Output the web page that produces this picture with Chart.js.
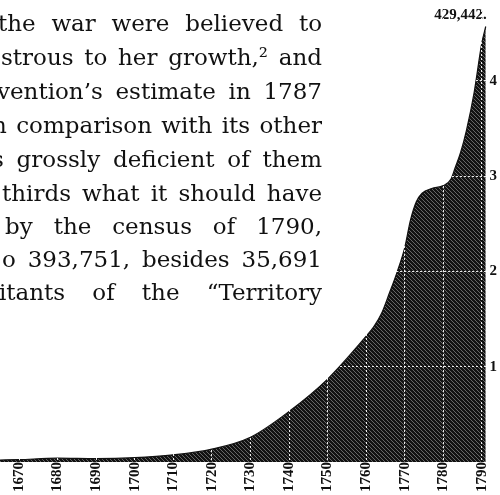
<!DOCTYPE html>
<html>
<head>
<meta charset="utf-8">
<script src="https://cdn.jsdelivr.net/npm/chart.js@4.4.1/dist/chart.umd.min.js"></script>
<style>
  html, body { margin: 0; padding: 0; background: #fff; }
  #page { position: relative; width: 500px; height: 495px; overflow: hidden; background: #fff; }
  #chart { position: absolute; left: 0; top: -3px; }
  .line {
    position: absolute;
    font-family: 'DejaVu Serif', serif;
    font-size: 23px;
    line-height: 24px;
    color: #111;
    text-align: justify;
    text-align-last: justify;
    white-space: nowrap;
  }
</style>
</head>
<body>
<div id="page">
  <canvas id="chart" width="500" height="495"></canvas>
  <div id="text"></div>
</div>
<script>
// North Carolina population
const years = [1665, 1670, 1680, 1690, 1700, 1710, 1720, 1730, 1740, 1750, 1760, 1762, 1764, 1766, 1768, 1770, 1771.5, 1773, 1774.5, 1777, 1780, 1782, 1783, 1784.5, 1786, 1788, 1790, 1791];
const population = [2000, 2500, 4000, 3500, 4500, 7500, 13500, 26000, 53000, 87000, 132000, 142000, 156000, 177000, 199000, 225000, 254000, 273000, 282000, 287000, 290000, 297000, 308000, 325000, 348000, 388000, 440000, 457000];
const tickYears = [1670, 1680, 1690, 1700, 1710, 1720, 1730, 1740, 1750, 1760, 1770, 1780, 1790];
const hundredThousands = [100000, 200000, 300000, 400000];
const peakLabel = '429,442.';

// the page text running beside the diagram, with its left x and baseline
const textLines = [
  ['the war were believed to', -2, 31],
  ['strous to her growth,\u00b2 and', 1, 65],
  ['vention\u2019s estimate in 1787', -3, 99],
  ['n comparison with its other', -8, 133],
  ['s grossly deficient of them', -8, 167],
  ['thirds what it should have', 2, 201],
  ['by the census of 1790,', 5, 234],
  ['o 393,751, besides 35,691', 2, 267],
  ['itants of the \u201cTerritory', -1, 300]
];

const textBox = document.getElementById('text');
textLines.forEach(([str, left, base]) => {
  const d = document.createElement('div');
  d.className = 'line';
  d.textContent = str;
  d.style.left = left + 'px';
  d.style.width = (322 - left) + 'px';
  d.style.top = (base - 20) + 'px';
  textBox.appendChild(d);
  // squeeze a little if the line does not fit
  let ls = 0;
  while (d.scrollWidth > d.clientWidth && ls > -1.5) {
    ls -= 0.1;
    d.style.letterSpacing = ls + 'px';
  }
  d.style.whiteSpace = 'normal';
});

function makeHatch() {
  const c = document.createElement('canvas');
  c.width = 4; c.height = 4;
  const g = c.getContext('2d');
  g.fillStyle = '#121212';
  g.fillRect(0, 0, 4, 4);
  g.strokeStyle = '#666';
  g.lineWidth = 1;
  [-4, 0, 4].forEach(o => {
    g.beginPath();
    g.moveTo(o - 1, -1);
    g.lineTo(o + 5, 5);
    g.stroke();
  });
  return g.createPattern(c, 'repeat');
}

const serifBold = { family: "'Liberation Serif', serif", size: 15, weight: 'bold' };

const peakLabelPlugin = {
  id: 'peakLabel',
  afterDatasetsDraw(chart) {
    const pts = chart.getDatasetMeta(0).data;
    const p = pts[pts.length - 1];
    const ctx = chart.ctx;
    ctx.save();
    ctx.font = "bold 15px 'Liberation Serif', serif";
    ctx.fillStyle = '#111';
    ctx.textAlign = 'right';
    ctx.textBaseline = 'alphabetic';
    ctx.fillText(peakLabel, p.x + 1, p.y - 7);
    ctx.restore();
  }
};

new Chart(document.getElementById('chart'), {
  type: 'line',
  data: {
    datasets: [{
      data: years.map((y, i) => ({ x: y, y: population[i] })),
      fill: 'origin',
      backgroundColor: makeHatch(),
      borderColor: '#111',
      borderWidth: 1.2,
      pointRadius: 0,
      cubicInterpolationMode: 'monotone'
    }]
  },
  options: {
    responsive: false,
    animation: false,
    devicePixelRatio: 1,
    layout: { padding: 0 },
    plugins: { legend: { display: false }, tooltip: { enabled: false } },
    scales: {
      x: {
        type: 'linear',
        min: 1665.07,
        max: 1791.95,
        afterBuildTicks: s => { s.ticks = tickYears.map(v => ({ value: v })); },
        ticks: { minRotation: 90, maxRotation: 90, autoSkip: false, padding: 0, color: '#111', font: serifBold, callback: v => String(v) },
        grid: { color: 'rgba(255,255,255,0.9)', lineWidth: 1, drawTicks: false, z: 1 },
        border: { display: false, dash: [2, 2] }
      },
      y: {
        type: 'linear',
        position: 'right',
        min: 0,
        max: 478500,
        afterBuildTicks: s => { s.ticks = hundredThousands.map(v => ({ value: v })); },
        ticks: { padding: 0, color: '#111', font: serifBold, callback: v => String(v / 100000) },
        grid: { color: 'rgba(255,255,255,0.9)', lineWidth: 1, drawTicks: false, z: 1 },
        border: { display: false, dash: [2, 2] }
      }
    }
  },
  plugins: [peakLabelPlugin]
});
</script>
</body>
</html>
